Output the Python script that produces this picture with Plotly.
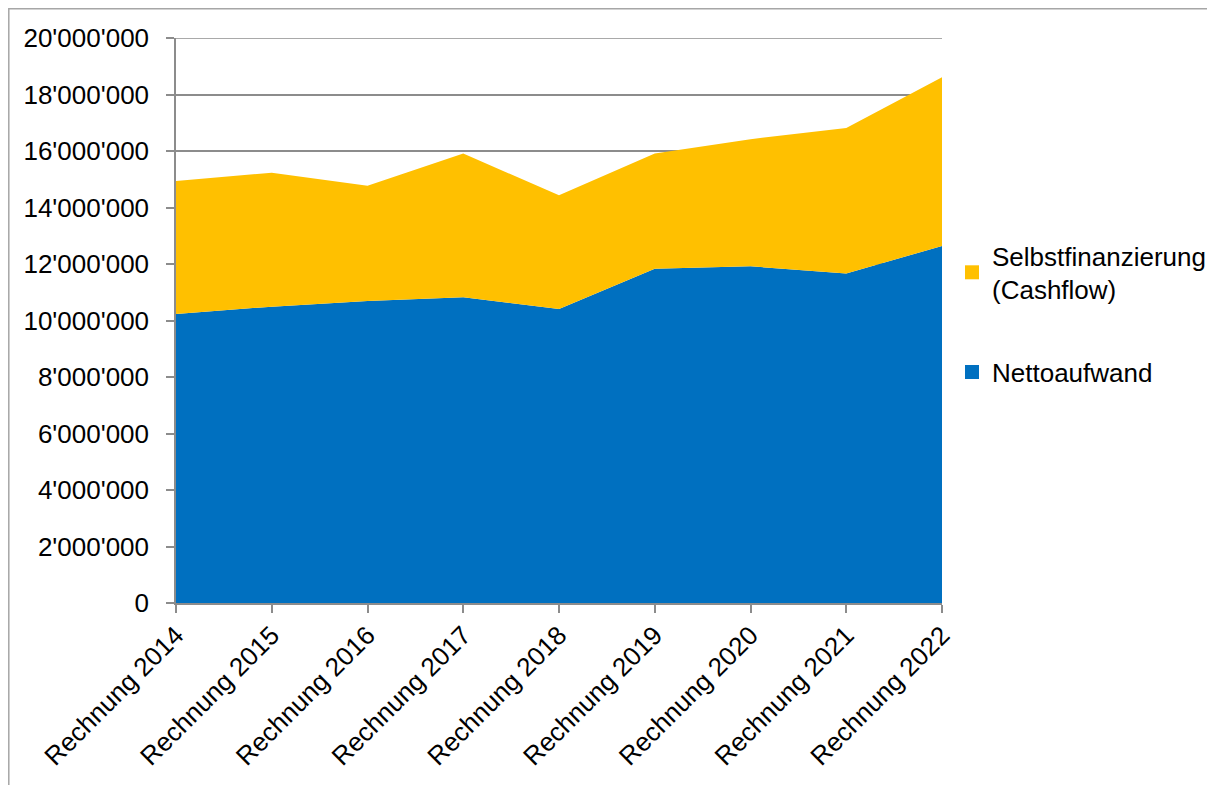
import plotly.graph_objects as go

categories = ["Rechnung 2014", "Rechnung 2015", "Rechnung 2016", "Rechnung 2017",
              "Rechnung 2018", "Rechnung 2019", "Rechnung 2020", "Rechnung 2021",
              "Rechnung 2022"]
nettoaufwand = [10230000, 10490000, 10690000, 10820000, 10410000,
                11830000, 11920000, 11660000, 12640000]
selbstfinanzierung = [4710000, 4740000, 4080000, 5090000, 4020000,
                      4080000, 4500000, 5150000, 5970000]
y_ticks = [0, 2000000, 4000000, 6000000, 8000000, 10000000,
           12000000, 14000000, 16000000, 18000000, 20000000]
y_max = 20000000

BLUE = "#0070C0"
YELLOW = "#FFC000"
GRID = "#8C8C8C"
FONT = "Liberation Sans, Arial, sans-serif"
FS = 26

fig = go.Figure()
fig.add_trace(go.Scatter(
    x=categories, y=nettoaufwand, name="Nettoaufwand",
    stackgroup="one", mode="lines", line=dict(width=0, color=BLUE),
    fillcolor=BLUE, showlegend=False))
fig.add_trace(go.Scatter(
    x=categories, y=selbstfinanzierung, name="Selbstfinanzierung<br>(Cashflow)",
    stackgroup="one", mode="lines", line=dict(width=0, color=YELLOW),
    fillcolor=YELLOW, showlegend=False))
# legend entries (square markers)
fig.add_trace(go.Scatter(
    x=[None], y=[None], mode="markers", name="Selbstfinanzierung<br>(Cashflow)",
    marker=dict(symbol="square", size=14, color=YELLOW),
    legendgroup="b", legendrank=1))
fig.add_trace(go.Scatter(
    x=[None], y=[None], mode="markers", name="Nettoaufwand",
    marker=dict(symbol="square", size=14, color=BLUE),
    legendgroup="a", legendrank=2))

# figure sits 8px inside the page (body margin)
W, H = 1207, 777
L, T = 168, 30
pw, ph = 766, 565
R = W - L - pw
B = H - T - ph

def px_x(px):
    return (px - L) / pw

def px_y(py):
    return (T + ph - py) / ph

fig.update_layout(
    width=W, height=H,
    margin=dict(l=L, r=R, t=T, b=B, pad=0, autoexpand=False),
    paper_bgcolor="white", plot_bgcolor="white",
    font=dict(family=FONT, size=FS, color="#000000"),
    separators=".'",
    showlegend=True,
    legend=dict(
        x=px_x(944), y=px_y(224), xanchor="left", yanchor="top",
        traceorder="grouped", tracegroupgap=46,
        font=dict(family=FONT, size=FS, color="#000000"),
        bgcolor="rgba(0,0,0,0)",
    ),
    xaxis=dict(
        type="category", range=[0, len(categories) - 1],
        showgrid=False, showline=True, linecolor=GRID, linewidth=1.5,
        ticks="outside", ticklen=8, tickcolor=GRID, tickwidth=1.5,
        tickangle=-45, ticklabelstandoff=-3,
        tickfont=dict(family=FONT, size=FS, color="#000000"),
    ),
    yaxis=dict(
        range=[0, y_max], tickvals=y_ticks, tickformat=",d",
        showgrid=True, gridcolor=GRID, gridwidth=1.5,
        showline=True, linecolor=GRID, linewidth=1.5,
        ticks="outside", ticklen=8, tickcolor=GRID, tickwidth=1.5,
        zeroline=False, ticklabelstandoff=12,
        tickfont=dict(family=FONT, size=FS, color="#000000"),
    ),
)

# top gridline
fig.add_shape(type="line", xref="paper", yref="y", x0=0, x1=1, y0=y_max, y1=y_max,
              line=dict(color=GRID, width=1.5), layer="below")

# outer chart frame (left and top edges visible)
fig.add_shape(type="rect", xref="paper", yref="paper",
              x0=px_x(0.8), x1=px_x(W + 20),
              y0=px_y(H + 20), y1=px_y(0.8),
              line=dict(color="#A6A6A6", width=1.5), layer="below")

fig.write_html("out.html")
